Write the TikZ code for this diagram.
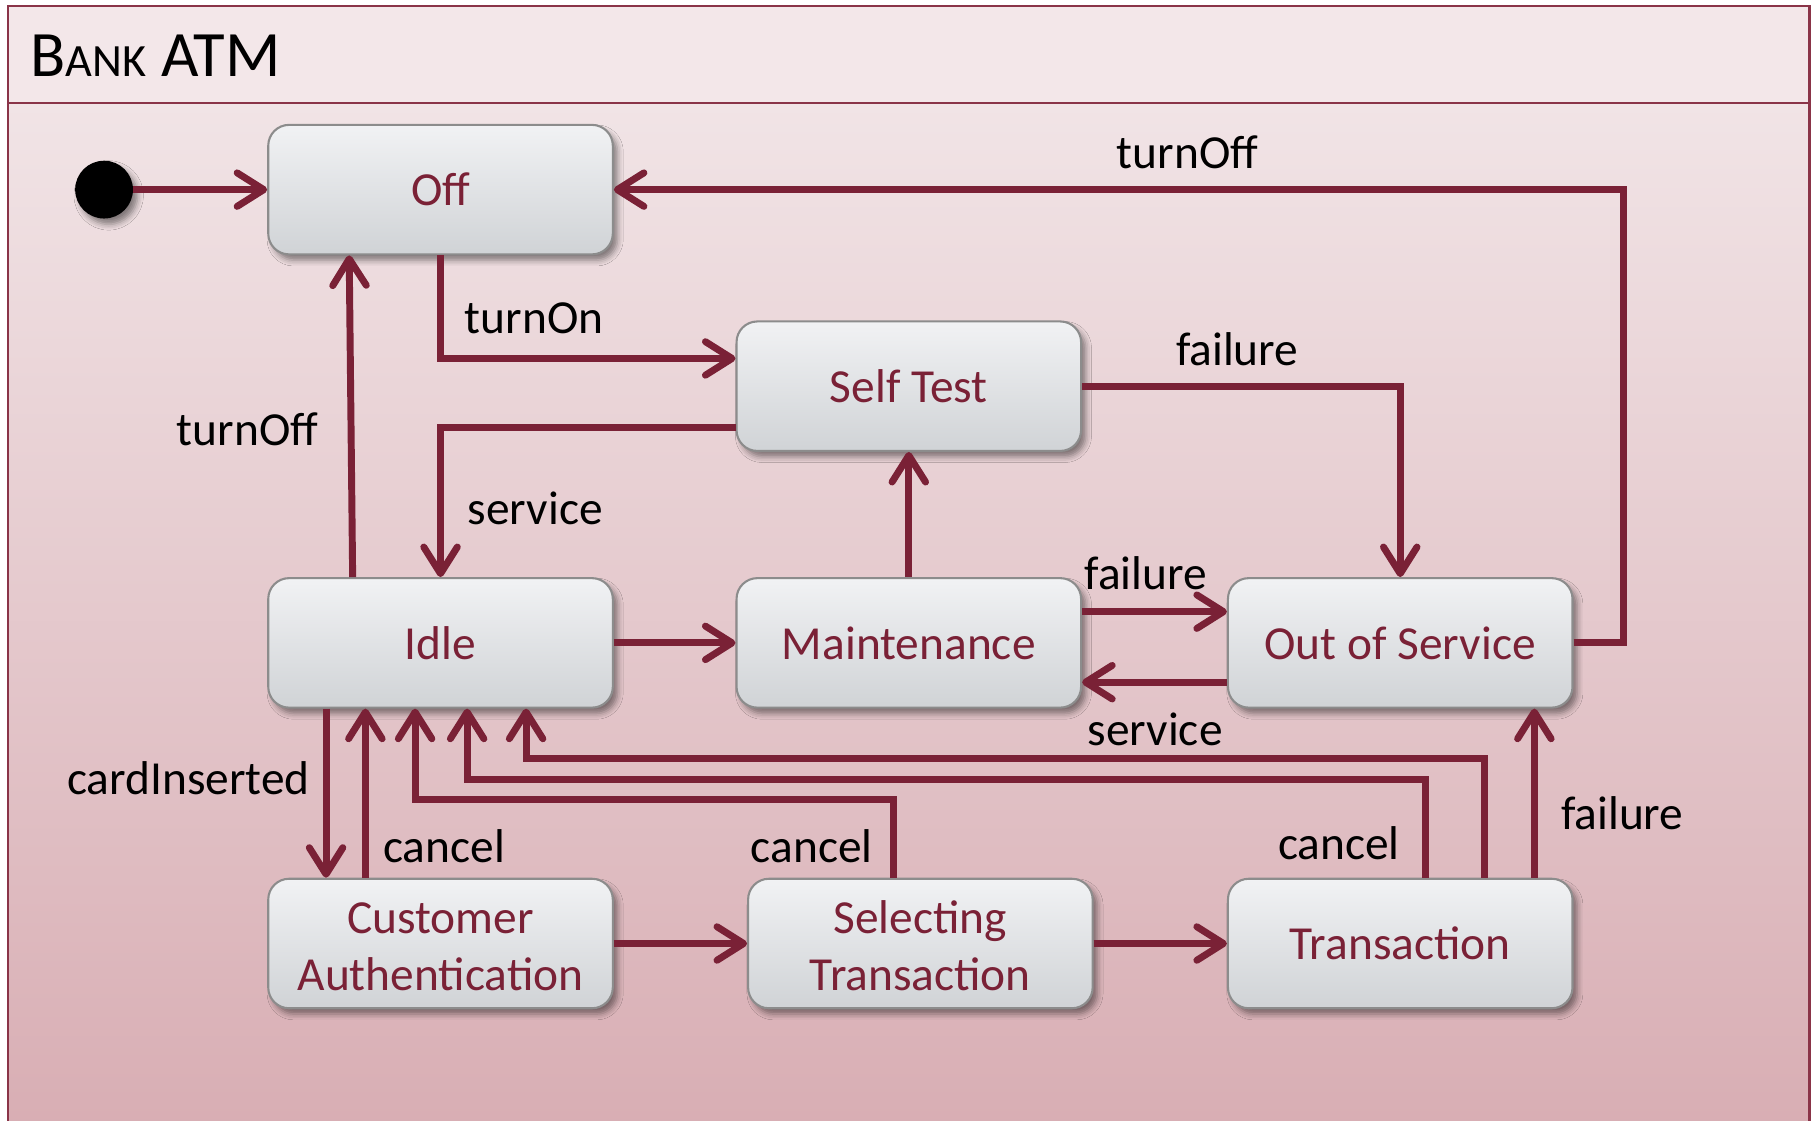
\documentclass[tikz,border=0pt]{standalone}
\usepackage{fontspec}
\setmainfont{Carlito}
\usetikzlibrary{arrows.meta,shadows.blur,calc}

\definecolor{atmred}{HTML}{7A2136}
\definecolor{frameline}{HTML}{8A3448}
\definecolor{hdrfill}{HTML}{F3E7E9}
\definecolor{bodytop}{HTML}{F1E4E6}
\definecolor{bodybot}{HTML}{D8ADB3}
\definecolor{statetop}{HTML}{F1F2F4}
\definecolor{statebot}{HTML}{D0D3D6}
\definecolor{stateedge}{HTML}{8C8C8C}

% two centred lines, set a little low inside their state box
\newcommand{\twolines}[2]{\raisebox{-3pt}[\height][\depth]{\begin{tabular}{@{}c@{}}#1\\#2\end{tabular}}}

\tikzset{
  atmstate/.style={draw=stateedge, line width=0.9pt, rounded corners=9pt,
    top color=statetop, bottom color=statebot,
    minimum width=149pt, minimum height=56pt, inner sep=0pt,
    text=atmred, align=center, font=\fontsize{20.5}{25}\selectfont,
    blur shadow={shadow xshift=2pt, shadow yshift=-2.5pt,
                 shadow blur radius=2.5pt, shadow opacity=45}},
  initstate/.style={circle, fill=black, minimum size=25pt, inner sep=0pt,
    blur shadow={shadow xshift=2pt, shadow yshift=-2.5pt,
                 shadow blur radius=2.5pt, shadow opacity=45}},
  flow/.style={draw=atmred, line width=3pt,
    -{Straight Barb[length=11.5pt,width=14.5pt,round]}},
  trig/.style={anchor=base, text=black, inner sep=0pt,
    font=\fontsize{20.5}{25}\selectfont},
}

\begin{document}
\begin{tikzpicture}[x=0.5pt, y=-0.5pt]
\useasboundingbox (0,0) rectangle (1568,969);

% frame of the state machine with its title band
\shade[top color=bodytop, bottom color=bodybot] (7,89) rectangle (1565,985);
\fill[hdrfill] (7,5) rectangle (1565,89);
\draw[frameline, line width=1pt] (7,985) -- (7,5) -- (1565,5) -- (1565,985);
\draw[frameline, line width=1pt] (7,89) -- (1565,89);
\node[anchor=base west, inner sep=0pt, font=\fontsize{28}{30}\selectfont] (title)
  at (26,66) {B{\fontsize{20}{24}\selectfont ANK} ATM};

% states
\node[initstate] (init) at (90,164) {};
\node[atmstate] (off)   at (381,164) {Off};
\node[atmstate] (self)  at (786,334) {Self Test};
\node[atmstate] (idle)  at (381,556) {Idle};
\node[atmstate] (maint) at (786,556) {Maintenance};
\node[atmstate] (oos)   at (1211,556) {Out of Service};
\node[atmstate] (auth)  at (381,816) {\twolines{Customer}{Authentication}};
\node[atmstate] (sel)   at (796,816) {\twolines{Selecting}{Transaction}};
\node[atmstate] (trans) at (1211,816) {Transaction};

% transitions
\draw[flow] (init) -- (off.west);
\draw[flow] (oos.east) -- ++(43,0) |- (off.east);
\draw[flow] (off.south) |- ($(self.west)+(0,-24)$);
\draw[flow] ($(self.west)+(0,36)$) -| (idle.north);
\draw[flow] ($(idle.north)+(-76,0)$) -- ($(off.south)+(-79,0)$);
\draw[flow] (self.east) -| (oos.north);
\draw[flow] (maint.north) -- (self.south);
\draw[flow] (idle.east) -- (maint.west);
\draw[flow] ($(maint.east)+(0,-27)$) -- ($(oos.west)+(0,-27)$);
\draw[flow] ($(oos.west)+(0,34)$) -- ($(maint.east)+(0,34)$);
\draw[flow] ($(idle.south)+(-99,0)$) -- ($(auth.north)+(-99,0)$);
\draw[flow] ($(auth.north)+(-65,0)$) -- ($(idle.south)+(-65,0)$);
\draw[flow] ($(sel.north)+(-23,0)$) -- ++(0,-68) -| ($(idle.south)+(-22,0)$);
\draw[flow] ($(trans.north)+(22,0)$) -- ++(0,-85) -| ($(idle.south)+(23,0)$);
\draw[flow] ($(trans.north)+(73,0)$) -- ++(0,-103) -| ($(idle.south)+(74,0)$);
\draw[flow] ($(trans.north)+(116,0)$) -- ($(oos.south)+(116,0)$);
\draw[flow] (auth.east) -- (sel.west);
\draw[flow] (sel.east) -- (trans.west);

% trigger labels
\node[trig] (l1)  at (1027,146) {turnOff};
\node[trig] (l2)  at (462,288)  {turnOn};
\node[trig] (l3)  at (1070,316) {failure};
\node[trig] (l4)  at (214,385)  {turnOff};
\node[trig] (l5)  at (463,454)  {service};
\node[trig] (l6)  at (991,510)  {failure};
\node[trig] (l7)  at (999,645)  {service};
\node[trig] (l8)  at (163,687)  {cardInserted};
\node[trig] (l9)  at (384,746)  {cancel};
\node[trig] (l10) at (702,746)  {cancel};
\node[trig] (l11) at (1158,743) {cancel};
\node[trig] (l12) at (1403,717) {failure};
\end{tikzpicture}
\end{document}
